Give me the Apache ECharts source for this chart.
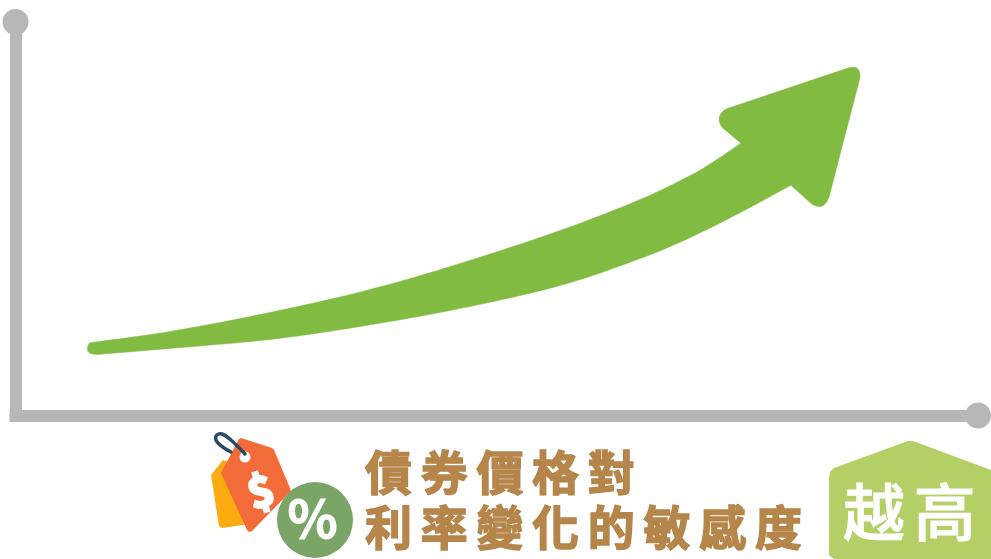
<!DOCTYPE html>
<html><head><meta charset="utf-8">
<style>html,body{margin:0;padding:0;background:#fff}#c{width:991px;height:559px}</style>
<script src="https://cdn.jsdelivr.net/npm/echarts@6/dist/echarts.min.js"></script>
</head><body><div id="c"></div>
<script>
const titleLine1 = '債券價格對';
const titleLine2 = '利率變化的敏感度';
const badgeText = '越高';
const xRange = [0, 962];
const yRange = [0, 393];
// Arrow outline, in axis units
const upperEdgeX = [77,155,255,355,445,545,625,675,700,725];
const upperEdgeY = [73,84,103,126,152,185,216,240,255,272];
// head corners: each triple is entry point, corner, exit point
const headX = [706,699,710, 832,845,844, 813,808,796];
const headY = [288,299,306, 347,351,337, 218,204,211];
const lowerEdgeX = [775,725,675,625,545,445,345,255,155,82];
const lowerEdgeY = [230,203,178,157,130,107,89,76,67,61];
const tailX = [71,72,77];
const tailY = [61,67,73];

const origGetContext = HTMLCanvasElement.prototype.getContext;
HTMLCanvasElement.prototype.getContext = function(){
  const ctx = origGetContext.apply(this, arguments);
  if (ctx && 'letterSpacing' in ctx) ctx.letterSpacing = '8.7px';
  return ctx;
};
const chart = echarts.init(document.getElementById('c'), null, {renderer:'canvas'});
const GREY = '#b7b7b7';
const zip = (xs,ys)=>xs.map((x,i)=>[x,ys[i]]);
const upper = zip(upperEdgeX,upperEdgeY), head = zip(headX,headY),
      lower = zip(lowerEdgeX,lowerEdgeY), tail = zip(tailX,tailY);
const seriesPts = upper.concat(head,lower);

// drawing helpers: trace a smooth outline through the read points
function spline(p, out){
  for(let i=0;i<p.length-1;i++){
    const p0=p[Math.max(i-1,0)],p1=p[i],p2=p[i+1],p3=p[Math.min(i+2,p.length-1)];
    for(let k=0;k<12;k++){
      const t=k/12,t2=t*t,t3=t2*t;
      out.push([0,1].map(d=>0.5*(2*p1[d]+(p2[d]-p0[d])*t+(2*p0[d]-5*p1[d]+4*p2[d]-p3[d])*t2+(3*p1[d]-p0[d]-3*p2[d]+p3[d])*t3)));
    }
  }
  out.push(p[p.length-1]);
}
function corner(a,c,b,out){
  for(let k=0;k<=10;k++){
    const t=k/10,u=1-t;
    out.push([0,1].map(d=>u*u*a[d]+2*u*t*c[d]+t*t*b[d]));
  }
}
function outline(){
  const o=[];
  spline(upper,o);
  for(let i=0;i<head.length;i+=3) corner(head[i],head[i+1],head[i+2],o);
  spline(lower,o);
  corner(lower[lower.length-1],tail[0],tail[1],o);
  corner(tail[1],[tail[1][0],tail[2][1]],tail[2],o);
  return o;
}

const axisLine = {show:true,symbol:['none','circle'],symbolSize:[26,26],
  lineStyle:{color:GREY,width:12,cap:'square'}};
chart.setOption({
  animation:false,
  backgroundColor:'#fff',
  grid:{left:15.5,right:13,top:22,bottom:143.5},
  xAxis:{type:'value',min:xRange[0],max:xRange[1],axisLine:{...axisLine,onZero:false},axisTick:{show:false},axisLabel:{show:false},splitLine:{show:false}},
  yAxis:{type:'value',min:yRange[0],max:yRange[1],axisLine:{...axisLine,onZero:false},axisTick:{show:false},axisLabel:{show:false},splitLine:{show:false}},
  series:[{
    type:'custom',coordinateSystem:'cartesian2d',clip:false,silent:true,
    data:seriesPts,
    encode:{x:0,y:1},
    renderItem:(params,api)=>{
      if(params.dataIndex!==0) return {type:'group',children:[]};
      return {type:'polygon',shape:{points:outline().map(p=>api.coord(p))},
        style:{fill:'#82bb42',stroke:'#82bb42',lineWidth:0.5,lineJoin:'round'}};
    }
  }],
  graphic:[
    {type:'polygon',z:10,shape:{points:[[211,475],[223,460],[250,470],[252,522],[243,525],[222,528],[219,526]]},style:{fill:'#fcab10'}},
    {type:'polygon',z:11,shape:{points:[[221,473],[239,439],[241,438],[272,448],[274,450],[290,488],[291,491],[252,531],[249,532],[247,530]]},style:{fill:'#f26b38'}},
    {type:'circle',z:12,shape:{cx:245,cy:457,r:5.5},style:{fill:'#fff'}},
    {type:'polyline',z:13,shape:{points:[[245,454],[232,441],[222,434],[216,436],[218,443],[231,452]],smooth:0.4},style:{fill:null,stroke:'#2b4a63',lineWidth:3.5,lineCap:'round'}},
    {type:'text',z:12,x:265,y:490,rotation:0.3,style:{text:'$',font:'800 42px "Noto Sans CJK TC"',fill:'#fff',align:'center',verticalAlign:'middle',stroke:'#fff',lineWidth:2}},
    {type:'circle',z:14,shape:{cx:315,cy:520,r:38},style:{fill:'#7aa566'}},
    {type:'text',z:15,x:317,y:518,style:{text:'%',font:'700 52px "Noto Sans CJK TC"',fill:'#fff',align:'center',verticalAlign:'middle',stroke:'#fff',lineWidth:1}},
    {type:'text',z:15,x:365,y:472,style:{text:titleLine1,font:'700 47px "Noto Sans CJK TC"',fill:'#b5854a',stroke:'#b5854a',lineWidth:1.5,lineJoin:'round',align:'left',verticalAlign:'middle'}},
    {type:'text',z:15,x:365,y:527,style:{text:titleLine2,font:'700 47px "Noto Sans CJK TC"',fill:'#b5854a',stroke:'#b5854a',lineWidth:1.5,lineJoin:'round',align:'left',verticalAlign:'middle'}},
    {type:'polygon',z:10,shape:{points:[[829,478],[830,472],[834,468],[908,441],[913,441],[991,470],[991,559],[834,559],[829,555]]},style:{fill:'#b5cf67'}},
    {type:'text',z:15,x:843,y:512,style:{text:badgeText,font:'500 62px "Noto Sans CJK TC"',fill:'#fff',stroke:'#fff',lineWidth:1,lineJoin:'round',align:'left',verticalAlign:'middle'}}
  ]
});
</script></body></html>
